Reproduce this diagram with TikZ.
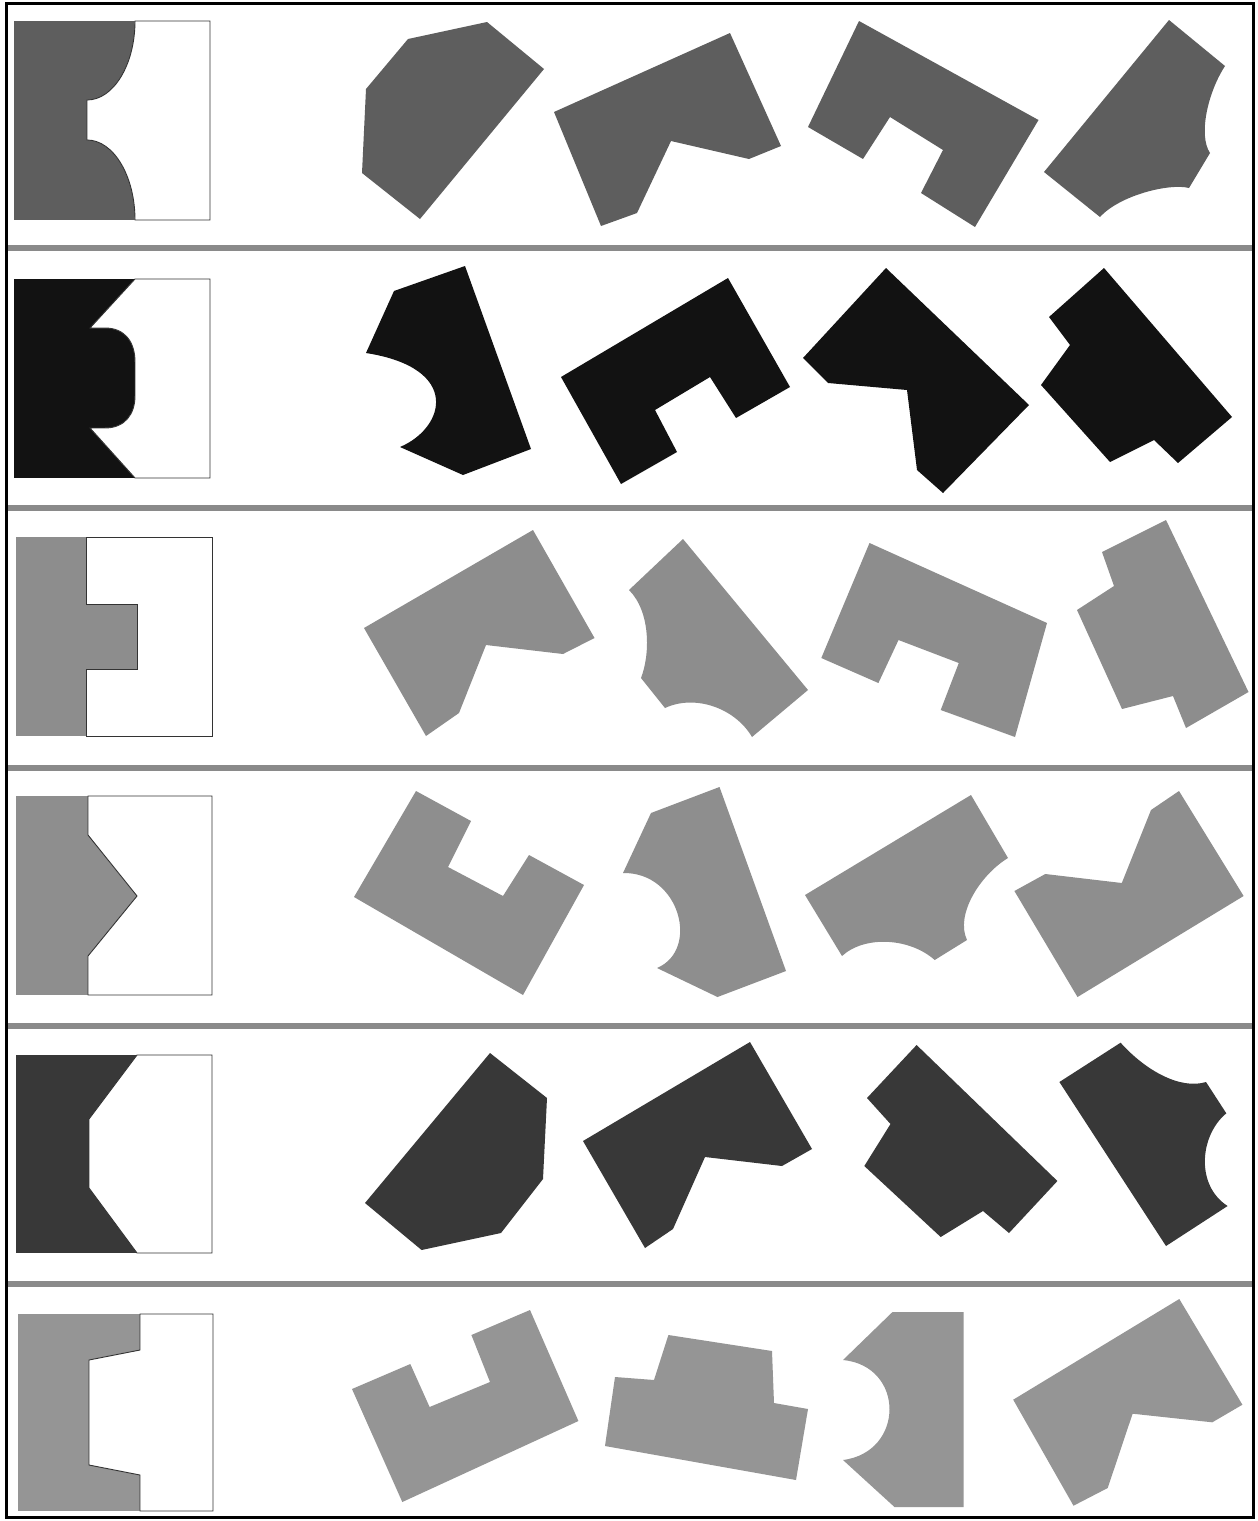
\documentclass[tikz,border=0pt]{standalone}
\definecolor{cA}{HTML}{5E5E5E}
\definecolor{cB}{HTML}{121212}
\definecolor{cC}{HTML}{8D8D8D}
\definecolor{cD}{HTML}{8E8E8E}
\definecolor{cE}{HTML}{383838}
\definecolor{cF}{HTML}{959595}
\definecolor{sepc}{HTML}{8A8A8A}
\tikzset{
  rowA/.style={fill=cA},
  rowB/.style={fill=cB},
  rowC/.style={fill=cC},
  rowD/.style={fill=cD},
  rowE/.style={fill=cE},
  rowF/.style={fill=cF},
  whitepart/.style={fill=white, draw=black!80, line width=0.9pt, line join=miter},
  sepline/.style={draw=sepc, line width=6pt},
  frameline/.style={draw=black, line width=3pt}
}
\begin{document}
\begin{tikzpicture}[x=1pt,y=-1pt]
\useasboundingbox (0,0) rectangle (1258,1521);
\fill[white] (0,0) rectangle (1258,1521);

% ---------- Row 1 ----------
\fill[rowA] (14,21) rectangle (210,220);
\draw[whitepart] (135,21) -- (210,21) -- (210,220) -- (135,220)
  .. controls (135,176) and (113.5,140) .. (87,140) -- (87,100)
  .. controls (113.5,100) and (135,64.6) .. (135,21) -- cycle;
\fill[rowA] (408,39) -- (487,22) -- (544,69) -- (420,219) -- (362,173) -- (366,89) -- cycle;
\fill[rowA] (554,112) -- (730,33) -- (781,146) -- (749,159) -- (671,141) -- (637,213) -- (601,226) -- cycle;
\fill[rowA] (859,21) -- (1038.5,120) -- (975,227) -- (921,193) -- (943,150) -- (890,117) -- (863,159) -- (808,127) -- cycle;
\fill[rowA] (1169,20) -- (1225,66) .. controls (1208,92) and (1198,135) .. (1210,153) -- (1189,188)
  .. controls (1170,183) and (1120,195) .. (1100,217) -- (1044,172) -- cycle;

% ---------- Row 2 ----------
\fill[rowB] (14,279) rectangle (210,478);
\draw[whitepart] (135,279) -- (210,279) -- (210,478) -- (135,478) -- (90,428) -- (105,428)
  .. controls (125,428) and (135,414) .. (135,396) -- (135,362)
  .. controls (135,342) and (125,328) .. (105,328) -- (90,328) -- cycle;
\fill[rowB] (394,291) -- (465,266) -- (531,449) -- (463,475) -- (400,447)
  .. controls (445,428) and (462,368) .. (366,353) -- cycle;
\fill[rowB] (561,377) -- (728,278) -- (790,387) -- (736,418) -- (710,377) -- (655,410) -- (677,452) -- (621,484) -- cycle;
\fill[rowB] (886,268) -- (1029,405) -- (943,493) -- (917,470) -- (907,390) -- (828,383) -- (803,358) -- cycle;
\fill[rowB] (1104,268) -- (1232,417) -- (1178,463) -- (1154,440) -- (1110,462) -- (1041,385) -- (1070,345) -- (1049,317) -- cycle;

% ---------- Row 3 ----------
\fill[rowC] (16,537) rectangle (212,736);
\draw[whitepart] (86,537) -- (212,537) -- (212,736) -- (86,736) -- (86,669) -- (137,669) -- (137,604) -- (86,604) -- cycle;
\fill[rowC] (533,530) -- (594.5,638) -- (563,654) -- (486,645) -- (459,713) -- (426,736) -- (364,628) -- cycle;
\fill[rowC] (683,539) -- (808,690) -- (752,737) .. controls (735,708) and (695,694) .. (665,708)
  -- (641,678) .. controls (650,655) and (651,612) .. (629,590) -- cycle;
\fill[rowC] (869.5,543) -- (1047,623) -- (1015,737) -- (940.7,710) -- (958.8,663) -- (898.5,640) -- (878.4,683) -- (821.3,658) -- cycle;
\fill[rowC] (1166,520) -- (1248.5,692) -- (1186,728) -- (1173,696) -- (1122,709) -- (1077,610) -- (1114,586) -- (1102,552) -- cycle;

% ---------- Row 4 ----------
\fill[rowD] (16,796) rectangle (212,995);
\draw[whitepart] (88,796) -- (212,796) -- (212,995) -- (88,995) -- (88,956) -- (137,896) -- (88,835) -- cycle;
\fill[rowD] (416,791) -- (471,821) -- (448,867) -- (503,896) -- (529,855) -- (584,885) -- (523,995) -- (354,897) -- cycle;
\fill[rowD] (651,813) -- (719.5,787) -- (786,971) -- (717.5,997) -- (657,968)
  .. controls (700,950) and (680,872) .. (623,873) -- cycle;
\fill[rowD] (971,795) -- (1008,858) .. controls (980,875) and (955,915) .. (967,940) -- (934.7,960)
  .. controls (910,938) and (865,935) .. (842,956) -- (805,895) -- cycle;
\fill[rowD] (1179,791) -- (1243.6,896) -- (1077.5,997) -- (1014.4,891) -- (1045.3,874) -- (1121.8,883) -- (1151,810) -- cycle;

% ---------- Row 5 ----------
\fill[rowE] (16,1055) rectangle (212,1253);
\draw[whitepart] (137,1055) -- (212,1055) -- (212,1253) -- (137,1253) -- (89,1188) -- (89,1119) -- cycle;
\fill[rowE] (490,1053) -- (547,1098) -- (543,1179) -- (501,1233) -- (421.6,1250) -- (365,1203) -- cycle;
\fill[rowE] (583,1141) -- (750,1042) -- (812,1149) -- (782,1166) -- (705,1157) -- (673,1229) -- (645,1248) -- cycle;
\fill[rowE] (916.6,1045) -- (1057.4,1181) -- (1009,1233) -- (983,1211) -- (940.7,1237) -- (864.3,1166) -- (890.5,1124) -- (867,1098) -- cycle;
\fill[rowE] (1120.6,1042.7) .. controls (1145,1070) and (1180,1090) .. (1206,1082) -- (1226.3,1113.3)
  .. controls (1200,1135) and (1195,1185) .. (1227.6,1206) -- (1166,1246) -- (1059.4,1082) -- cycle;

% ---------- Row 6 ----------
\fill[rowF] (18,1314) rectangle (213,1511);
\draw[whitepart] (140,1314) -- (213,1314) -- (213,1511) -- (140,1511) -- (140,1475) -- (89,1465) -- (89,1360) -- (140,1350) -- cycle;
\fill[rowF] (530,1310) -- (578.4,1421) -- (402.3,1502) -- (352,1389) -- (410.3,1364) -- (429.6,1407) -- (490,1382) -- (471.4,1335) -- cycle;
\fill[rowF] (668.4,1335) -- (772,1351) -- (774,1403) -- (808,1409) -- (796,1480) -- (605,1446) -- (615,1377) -- (654,1380) -- cycle;
\fill[rowF] (892.5,1312) -- (963.7,1312) -- (963.7,1507) -- (894.5,1507) -- (843,1460)
  .. controls (905,1452) and (905,1366) .. (843,1360) -- cycle;
\fill[rowF] (1179.3,1299) -- (1242.4,1404.7) -- (1212.3,1422.3) -- (1132.6,1413.7) -- (1107.7,1488) -- (1073.5,1505.7) -- (1013.2,1399.7) -- cycle;

% ---------- separators and frame ----------
\draw[sepline] (6,248) -- (1253,248);
\draw[sepline] (6,508) -- (1253,508);
\draw[sepline] (6,768) -- (1253,768);
\draw[sepline] (6,1026) -- (1253,1026);
\draw[sepline] (6,1284) -- (1253,1284);
\draw[frameline] (6,3.5) rectangle (1253.5,1517.5);
\end{tikzpicture}
\end{document}
